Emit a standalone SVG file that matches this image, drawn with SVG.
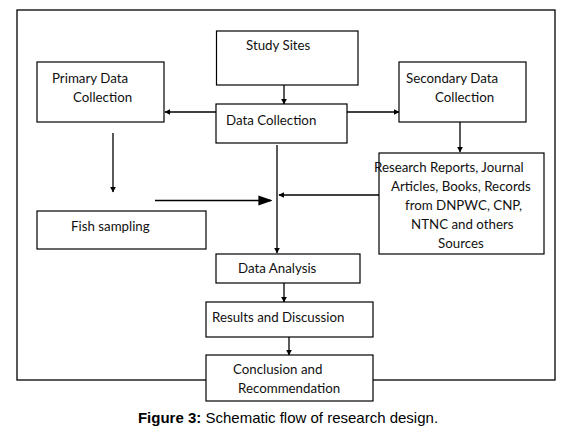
<svg xmlns="http://www.w3.org/2000/svg" width="577" height="433" viewBox="0 0 577 433">
<defs>
<style>
.box{fill:#fff;stroke:#000;stroke-width:1.2}
.t{font-family:Lato,"Open Sans","Liberation Sans",sans-serif;font-size:13.3px;fill:#111}
.c{stroke:#000;stroke-width:1.3;fill:none}
</style>
<marker id="ah" viewBox="0 0 10 10" refX="9" refY="5" markerWidth="6" markerHeight="6" markerUnits="userSpaceOnUse" orient="auto"><path d="M0,0L10,5L0,10z" fill="#000"/></marker>
<marker id="ahb" viewBox="0 0 10 10" refX="9" refY="5" markerWidth="14" markerHeight="14" markerUnits="userSpaceOnUse" orient="auto"><path d="M0,1.5L10,5L0,8.5z" fill="#000"/></marker>
</defs>
<rect x="0" y="0" width="577" height="433" fill="#fff"/>
<rect id="frame" x="17" y="10" width="538" height="370" fill="none" stroke="#000" stroke-width="1.3"/>
<g id="connectors">
<line class="c" x1="284" y1="85" x2="284" y2="104" marker-end="url(#ah)"/>
<line class="c" x1="216" y1="112" x2="165" y2="112" marker-end="url(#ah)"/>
<line class="c" x1="347" y1="112" x2="399" y2="112" marker-end="url(#ah)"/>
<line class="c" x1="460" y1="122" x2="460" y2="152" stroke-width="2" marker-end="url(#ah)"/>
<line class="c" x1="113" y1="133" x2="113" y2="192" marker-end="url(#ah)"/>
<line class="c" x1="155" y1="200.5" x2="271" y2="200.5" stroke-width="3" marker-end="url(#ahb)"/>
<line class="c" x1="277" y1="145" x2="277" y2="253" marker-end="url(#ah)"/>
<line class="c" x1="379" y1="195" x2="279" y2="195" marker-end="url(#ah)"/>
<line class="c" x1="284" y1="283" x2="284" y2="302" marker-end="url(#ah)"/>
<line class="c" x1="289" y1="337" x2="289" y2="355" marker-end="url(#ah)"/>
</g>
<g id="study-sites"><rect class="box" x="216.5" y="31" width="141.5" height="54"/><text class="t" x="246" y="50">Study Sites</text></g>
<g id="primary"><rect class="box" x="37" y="62" width="127" height="60"/><text class="t" x="52" y="83">Primary Data</text><text class="t" x="73" y="102">Collection</text></g>
<g id="data-collection"><rect class="box" x="216" y="104" width="131" height="39"/><text class="t" x="226" y="125">Data Collection</text></g>
<g id="secondary"><rect class="box" x="399" y="62" width="127" height="60"/><text class="t" x="406" y="83">Secondary Data</text><text class="t" x="435" y="102">Collection</text></g>
<g id="research"><rect class="box" x="379" y="153" width="165" height="101"/>
<text class="t" x="374" y="172">Research Reports, Journal</text>
<text class="t" x="391" y="191">Articles, Books, Records</text>
<text class="t" x="405" y="210">from DNPWC, CNP,</text>
<text class="t" x="411" y="229">NTNC and others</text>
<text class="t" x="438" y="248">Sources</text></g>
<g id="fish"><rect class="box" x="37" y="211" width="169" height="38"/><text class="t" x="71" y="231">Fish sampling</text></g>
<g id="analysis"><rect class="box" x="216" y="254" width="144" height="29"/><text class="t" x="238" y="273">Data Analysis</text></g>
<g id="results"><rect class="box" x="206" y="302" width="167" height="35"/><text class="t" x="212" y="322">Results and Discussion</text></g>
<g id="conclusion"><rect class="box" x="206" y="355" width="167" height="46" stroke="#555"/><text class="t" x="233" y="374" fill="#222">Conclusion and</text><text class="t" x="238" y="393" fill="#222">Recommendation</text></g>
<text x="288" y="423" text-anchor="middle" font-family="Liberation Sans,Arial,sans-serif" font-size="15" fill="#000"><tspan font-weight="bold">Figure 3:</tspan> Schematic flow of research design.</text>
</svg>
